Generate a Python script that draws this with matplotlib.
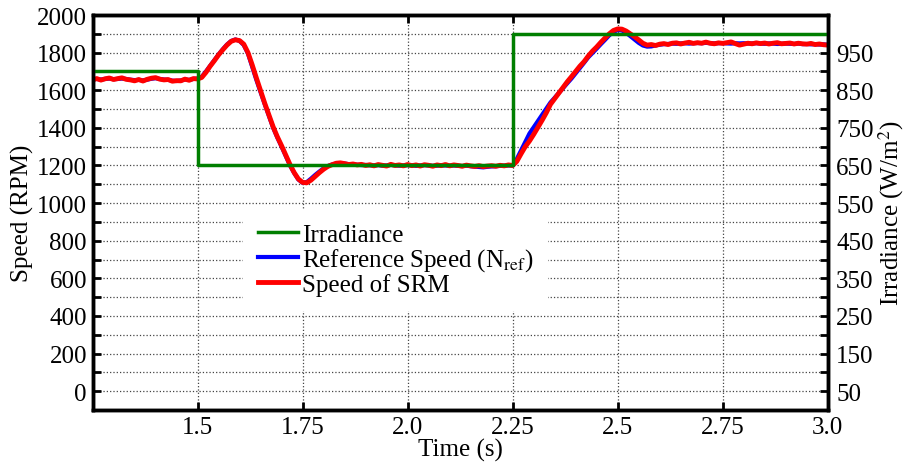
import matplotlib.pyplot as plt
import matplotlib
import numpy as np
from matplotlib.ticker import MultipleLocator, FixedLocator

# sampling of the measured signals (s)
t_start = 1.25
t_step = 0.01

# reference speed N_ref (rpm), one value per 0.01 s from 1.25 s to 3.0 s
speed_ref = [1658, 1660, 1657, 1660, 1662, 1659, 1660, 1662, 1660, 1656,
             1654, 1655, 1652, 1656, 1661, 1664, 1660, 1657, 1655, 1651,
             1649, 1652, 1657, 1655, 1660, 1662,
             1672, 1700, 1730, 1760, 1790, 1818, 1843, 1862, 1870, 1862,
             1840, 1795, 1725, 1655, 1590, 1525, 1462, 1400, 1348, 1300,
             1250, 1200, 1160, 1125, 1108, 1112, 1130, 1150, 1168, 1185,
             1197, 1205, 1210, 1212, 1210, 1207, 1205, 1204, 1202, 1203,
             1201, 1200, 1202, 1199, 1200, 1203, 1201, 1199, 1200, 1202,
             1201, 1198, 1200, 1202, 1200, 1198, 1199, 1201, 1200, 1199,
             1200, 1198, 1197, 1199, 1196, 1194, 1192, 1190, 1193, 1195,
             1196, 1198, 1199, 1200, 1200,
             1235, 1280, 1325, 1370, 1403,
             1436, 1469, 1502, 1535, 1560, 1586, 1611, 1637, 1662, 1690,
             1718, 1746, 1775, 1798, 1821, 1845, 1868, 1892, 1910, 1920,
             1918, 1905, 1888, 1870, 1852, 1838, 1832, 1833, 1838, 1842,
             1845, 1846, 1848, 1847, 1849, 1850, 1848, 1850, 1851, 1850,
             1852, 1850, 1849, 1850, 1851, 1849, 1848, 1850, 1849, 1850,
             1848, 1849, 1850, 1848, 1847, 1849, 1848, 1846, 1847, 1848,
             1847, 1846, 1848, 1845, 1846, 1844, 1845, 1843, 1844, 1842]

# measured speed of the SRM (rpm), same sampling
speed_srm = [1655, 1662, 1654, 1661, 1665, 1657, 1662, 1666, 1658, 1655,
             1650, 1657, 1649, 1658, 1664, 1667, 1659, 1655, 1657, 1648,
             1651, 1650, 1659, 1653, 1662, 1660,
             1668, 1695, 1728, 1757, 1788, 1815, 1840, 1860, 1868, 1864,
             1845, 1800, 1735, 1665, 1598, 1530, 1468, 1405, 1352, 1305,
             1255, 1205, 1162, 1128, 1110, 1108, 1122, 1142, 1162, 1180,
             1195, 1204, 1212, 1214, 1210, 1205, 1208, 1203, 1206, 1200,
             1204, 1198, 1205, 1201, 1197, 1206, 1200, 1203, 1198, 1205,
             1199, 1203, 1197, 1204, 1201, 1196, 1203, 1199, 1205, 1198,
             1203, 1200, 1196, 1202, 1198, 1195, 1199, 1194, 1197, 1199,
             1196, 1201, 1198, 1203, 1200,
             1222, 1262, 1300, 1330, 1365,
             1402, 1440, 1480, 1525, 1555, 1585, 1615, 1645, 1672, 1700,
             1728, 1752, 1782, 1808, 1830, 1855, 1878, 1900, 1918, 1926,
             1925, 1915, 1900, 1885, 1868, 1850, 1840, 1843, 1838, 1845,
             1848, 1843, 1850, 1852, 1846, 1851, 1855, 1849, 1853, 1850,
             1856, 1850, 1847, 1852, 1849, 1853, 1857, 1848, 1840, 1845,
             1850, 1847, 1852, 1848, 1851, 1846, 1850, 1853, 1847, 1849,
             1851, 1846, 1850, 1847, 1845, 1849, 1843, 1846, 1842, 1840]

# irradiance steps (W/m^2)
irr_time = [1.25, 1.5, 1.5, 2.25, 2.25, 3.0]
irr_value = [900, 900, 650, 650, 1000, 1000]

x_ticks = [1.5, 1.75, 2.0, 2.25, 2.5, 2.75, 3.0]
x_tick_labels = ['1.5', '1.75', '2.0', '2.25', '2.5', '2.75', '3.0']
speed_ticks = [0, 200, 400, 600, 800, 1000, 1200, 1400, 1600, 1800, 2000]
irr_ticks = [50, 150, 250, 350, 450, 550, 650, 750, 850, 950]


def main():
    # Times-like font
    matplotlib.rcParams['font.family'] = 'Liberation Serif'
    matplotlib.rcParams['mathtext.fontset'] = 'stix'
    matplotlib.rcParams['font.size'] = 18

    t = t_start + t_step * np.arange(len(speed_ref))

    fig = plt.figure(figsize=(9.09, 4.64), dpi=100)
    ax = fig.add_axes([0.1018, 0.1142, 0.8088, 0.8513])
    ax2 = ax.twinx()

    l2, = ax.plot(t, speed_ref, color='#0000ff', lw=3, label='Reference Speed (N$_{\\rm ref}$)')
    l3, = ax.plot(t, speed_srm, color='#ff0000', lw=3.5, label='Speed of SRM')
    l1, = ax2.plot(irr_time, irr_value, color='#007f00', lw=2.5, label='Irradiance')

    ax.set_xlim(1.25, 3.0)
    ax.set_ylim(-100, 2000)
    ax2.set_ylim(0, 1050)

    ax.xaxis.set_major_locator(FixedLocator(x_ticks))
    ax.set_xticklabels(x_tick_labels)
    ax.yaxis.set_major_locator(FixedLocator(speed_ticks))
    ax.yaxis.set_minor_locator(MultipleLocator(100))
    ax2.yaxis.set_major_locator(FixedLocator(irr_ticks))
    ax2.yaxis.set_minor_locator(MultipleLocator(100))

    ax.tick_params(which='both', direction='in', length=6, width=2, top=True, pad=4)
    ax2.tick_params(which='both', direction='in', length=6, width=2, pad=6)

    # dotted grid every 100 rpm and every 0.25 s
    ax.grid(True, which='both', axis='y', ls=':', lw=0.9, color='#444444')
    ax.grid(True, which='major', axis='x', ls=':', lw=0.9, color='#444444')

    for sp in ax.spines.values():
        sp.set_linewidth(2.5)
    for sp in ax2.spines.values():
        sp.set_linewidth(2.5)

    ax.set_xlabel('Time (s)', labelpad=0)
    ax.set_ylabel('Speed (RPM)', labelpad=2)
    ax2.set_ylabel('Irradiance (W/m$^2$)', labelpad=2)

    # legend on a white box without border
    ax2.legend(handles=[l1, l2, l3], loc='upper left', bbox_to_anchor=(0.2047, 0.51),
               frameon=True, fancybox=False, edgecolor='none', facecolor='white',
               framealpha=1, handlelength=1.6, handletextpad=0.16, labelspacing=0.0,
               borderpad=0.6, borderaxespad=0)

    fig.savefig('out.png', dpi=100)


if __name__ == '__main__':
    main()
